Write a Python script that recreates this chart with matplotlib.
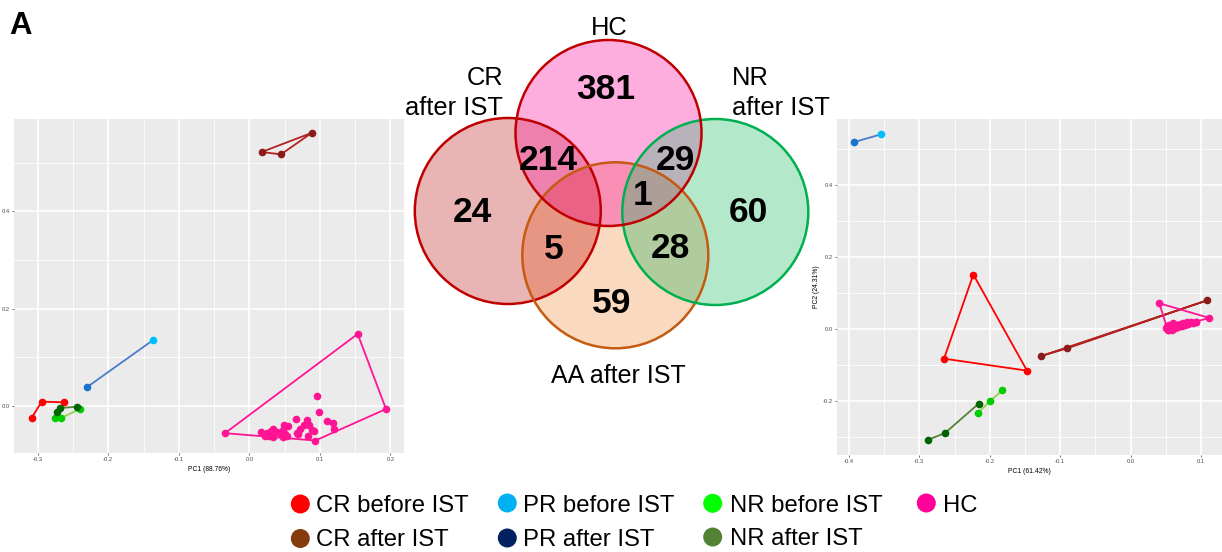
"""Venn diagram of HC / CR / NR / AA groups flanked by two PCA panels."""

import matplotlib

matplotlib.use("Agg")
import matplotlib.pyplot as plt
import numpy as np
from matplotlib.patches import Circle
from matplotlib.ticker import MultipleLocator

W, H = 1222, 552
FONT = ["Liberation Sans", "DejaVu Sans"]
plt.rcParams["font.family"] = FONT

# ---- PCA panel 1 (PC1 88.76%) ----
left_cr_before_x = [-0.3086, -0.2944, -0.2628]
left_cr_before_y = [-0.0248, 0.0083, 0.0069]
left_cr_after_x = [0.0884, 0.0175, 0.0449]
left_cr_after_y = [0.5614, 0.5221, 0.5172]
left_pr_before_x = [-0.1370]
left_pr_before_y = [0.1345]
left_pr_after_x = [-0.2297]
left_pr_after_y = [0.0386]
left_nr_before_x = [-0.2760, -0.2665, -0.2401]
left_nr_before_y = [-0.0248, -0.0248, -0.0069]
left_nr_after_x = [-0.2732, -0.2689, -0.2439]
left_nr_after_y = [-0.0131, -0.0048, -0.0021]
left_hc_hull_x = [-0.0345, 0.1536, 0.1938, 0.0936]
left_hc_hull_y = [-0.0566, 0.1476, -0.0069, -0.0717]
left_hc_x = [0.0964, 0.0983, 0.0666, 0.0813, 0.1096, 0.1181, 0.1196, 0.0841,
             0.0884, 0.0917, 0.0770, 0.0718, 0.0671, 0.0836, 0.0553, 0.0491,
             0.0473, 0.0506, 0.0482, 0.0444, 0.0340, 0.0302, 0.0284, 0.0246,
             0.0222, 0.0161, 0.0331, 0.0388, 0.0529, 0.0685]
left_hc_y = [0.0200, -0.0131, -0.0269, -0.0303, -0.0317, -0.0359, -0.0490,
             -0.0407, -0.0510, -0.0524, -0.0407, -0.0476, -0.0566, -0.0614,
             -0.0428, -0.0400, -0.0510, -0.0579, -0.0648, -0.0593, -0.0476,
             -0.0531, -0.0614, -0.0566, -0.0614, -0.0545, -0.0648, -0.0545,
             -0.0614, -0.0579]

# ---- PCA panel 2 (PC1 61.42%, PC2 24.31%) ----
right_cr_before_x = [-0.2233, -0.2649, -0.1471]
right_cr_before_y = [0.1520, -0.0815, -0.1148]
right_cr_after_x = [-0.1268, -0.0899, 0.1088]
right_cr_after_y = [-0.0741, -0.0528, 0.0806]
right_pr_before_x = [-0.3548]
right_pr_before_y = [0.5410]
right_pr_after_x = [-0.3920]
right_pr_after_y = [0.5200]
right_nr_before_x = [-0.2171, -0.2001, -0.1821]
right_nr_before_y = [-0.2333, -0.2000, -0.1694]
right_nr_after_x = [-0.2871, -0.2635, -0.2157]
right_nr_after_y = [-0.3065, -0.2880, -0.2065]
right_hc_hull_x = [0.0407, 0.1116, 0.0922, 0.0525]
right_hc_hull_y = [0.0722, 0.0315, 0.0213, -0.0019]
right_hc_x = [0.0497, 0.0525, 0.0558, 0.0582, 0.0605, 0.0629, 0.0653, 0.0676,
              0.0700, 0.0724, 0.0747, 0.0771, 0.0795, 0.0818, 0.0851, 0.0889,
              0.0922, 0.0544, 0.0596, 0.0511]
right_hc_y = [0.0028, -0.0019, 0.0056, -0.0019, 0.0074, 0.0028, 0.0120, 0.0056,
              0.0148, 0.0093, 0.0185, 0.0120, 0.0204, 0.0148, 0.0213, 0.0185,
              0.0213, 0.0120, 0.0167, 0.0093]

# ---- Venn counts ----
venn_sets = ["HC", "CR\nafter IST", "NR\nafter IST", "AA after IST"]
venn_counts = {"381": "HC", "214": "HC&CR", "29": "HC&NR", "24": "CR",
               "1": "HC&NR&AA", "60": "NR", "5": "CR&AA", "28": "NR&AA",
               "59": "AA"}

legend_labels = ["CR before IST", "PR before IST", "NR before IST", "HC",
                 "CR after IST", "PR after IST", "NR after IST"]
legend_colors = ["#FF0000", "#00B0F0", "#00FF00", "#FF0099",
                 "#843C0C", "#002060", "#548235"]

C_CR_B, C_CR_A = "#FF0000", ("#8B1A1A", "#B22222")
C_NR_B, C_NR_A = ("#00CD00", "#92D050"), ("#006400", "#548235")
C_PR_B, C_PR_A, C_PR_LINE = "#00BFFF", "#1874CD", "#4A7DC9"
C_HC = "#FF1493"
MS = 5.5


def px_axes(fig, left, top, right, bottom):
    return fig.add_axes([left / W, 1 - bottom / H, (right - left) / W,
                         (bottom - top) / H])


def style_panel(ax, xlim, ylim):
    ax.set_facecolor("#EBEBEB")
    for s in ax.spines.values():
        s.set_visible(False)
    ax.set_xlim(*xlim)
    ax.set_ylim(*ylim)
    ax.xaxis.set_major_locator(MultipleLocator(0.1))
    ax.xaxis.set_minor_locator(MultipleLocator(0.05))
    ax.yaxis.set_major_locator(MultipleLocator(0.2))
    ax.yaxis.set_minor_locator(MultipleLocator(0.1))
    ax.grid(which="major", color="white", lw=1.2)
    ax.grid(which="minor", color="white", lw=0.6)
    ax.set_axisbelow(True)
    ax.tick_params(which="major", length=1.5, width=0.5, color="#333333",
                   labelsize=4.2, labelcolor="#4D4D4D", pad=1.5)
    ax.tick_params(which="minor", length=0)
    ax.xaxis.set_major_formatter(lambda v, p: f"{v:.1f}".replace("-0.0", "0.0"))
    ax.yaxis.set_major_formatter(lambda v, p: f"{v:.1f}".replace("-0.0", "0.0"))


def hull(ax, x, y, point_color, line_color, closed):
    x, y = list(x), list(y)
    lx = x + x[:1] if closed else x
    ly = y + y[:1] if closed else y
    ax.plot(lx, ly, color=line_color, lw=1.3, zorder=2)
    ax.plot(x, y, "o", color=point_color, ms=MS, mec="none", zorder=3)


def points(ax, x, y, color):
    ax.plot(x, y, "o", color=color, ms=MS, mec="none", zorder=3, ls="none")


fig = plt.figure(figsize=(W / 100, H / 100), dpi=100)

# left PCA
ax1 = px_axes(fig, 14, 119, 404, 453.3)
style_panel(ax1, (-0.3337, 0.2193), (-0.098, 0.590))
hull(ax1, left_cr_before_x, left_cr_before_y, C_CR_B, C_CR_B, False)
hull(ax1, left_cr_after_x, left_cr_after_y, C_CR_A[0], C_CR_A[1], True)
ax1.plot(left_pr_after_x + left_pr_before_x, left_pr_after_y + left_pr_before_y,
         color=C_PR_LINE, lw=1.3, zorder=2)
points(ax1, left_pr_before_x, left_pr_before_y, C_PR_B)
points(ax1, left_pr_after_x, left_pr_after_y, C_PR_A)
hull(ax1, left_nr_before_x, left_nr_before_y, C_NR_B[0], C_NR_B[1], False)
hull(ax1, left_nr_after_x, left_nr_after_y, C_NR_A[0], C_NR_A[1], False)
hull(ax1, left_hc_hull_x, left_hc_hull_y, C_HC, C_HC, True)
points(ax1, left_hc_x, left_hc_y, C_HC)
ax1.set_xlabel("PC1 (88.76%)", fontsize=4.9, labelpad=2.5)

# right PCA
ax2 = px_axes(fig, 836.7, 119.3, 1222, 455)
style_panel(ax2, (-0.4172, 0.1296), (-0.349, 0.583))
hull(ax2, right_cr_before_x, right_cr_before_y, C_CR_B, C_CR_B, True)
hull(ax2, right_cr_after_x, right_cr_after_y, C_CR_A[0], C_CR_A[1], True)
ax2.plot(right_pr_after_x + right_pr_before_x,
         right_pr_after_y + right_pr_before_y, color=C_PR_LINE, lw=1.3, zorder=2)
points(ax2, right_pr_before_x, right_pr_before_y, C_PR_B)
points(ax2, right_pr_after_x, right_pr_after_y, C_PR_A)
hull(ax2, right_nr_before_x, right_nr_before_y, C_NR_B[0], C_NR_B[1], False)
hull(ax2, right_nr_after_x, right_nr_after_y, C_NR_A[0], C_NR_A[1], False)
hull(ax2, right_hc_hull_x, right_hc_hull_y, C_HC, C_HC, True)
points(ax2, right_hc_x, right_hc_y, C_HC)
ax2.set_xlabel("PC1 (61.42%)", fontsize=4.9, labelpad=2.5)
ax2.set_ylabel("PC2 (24.31%)", fontsize=4.9, labelpad=2)

# overlay in pixel units for the Venn, legend and panel letter
ov = fig.add_axes([0, 0, 1, 1], zorder=5)
ov.axis("off")
ov.patch.set_alpha(0)

circles = {  # centre x, centre y, radius, edge colour
    "HC": (608.5, 133.0, 93.0, "#C00000"),
    "CR": (507.8, 211.0, 93.0, "#C00000"),
    "NR": (715.3, 212.0, 93.0, "#00B050"),
    "AA": (615.3, 255.3, 93.0, "#C55A11"),
}
region_colors = {
    ("HC",): "#FDAEDF", ("CR",): "#E9B4B4", ("NR",): "#B3E8CA",
    ("AA",): "#F9D9C0", ("HC", "CR"): "#EE80AE", ("HC", "NR"): "#B8B2BA",
    ("HC", "AA"): "#F98FB4", ("HC", "CR", "AA"): "#EA6387",
    ("HC", "NR", "AA"): "#AE9E98", ("CR", "AA"): "#E89684",
    ("NR", "AA"): "#B0CC9E",
}
x0, x1, y0, y1 = 405, 820, 30, 360
gx, gy = np.meshgrid(np.arange(x0, x1, 0.25) + 0.125,
                     np.arange(y0, y1, 0.25) + 0.125)
inside = {k: (gx - c[0]) ** 2 + (gy - c[1]) ** 2 <= c[2] ** 2
          for k, c in circles.items()}
img = np.zeros(gx.shape + (4,))
for key, col in region_colors.items():
    mask = np.ones(gx.shape, bool)
    for k in circles:
        mask &= inside[k] if k in key else ~inside[k]
    img[mask] = matplotlib.colors.to_rgba(col)
ov.imshow(img, extent=(x0, x1, y1, y0), origin="upper", aspect="auto",
          interpolation="nearest", zorder=1)
for k in ["CR", "AA", "NR", "HC"]:
    cx, cy, r, ec = circles[k]
    ov.add_patch(Circle((cx, cy), r, fill=False, ec=ec, lw=1.8, zorder=2))
ov.set_xlim(0, W)
ov.set_ylim(H, 0)

ov.text(608.7, 35, venn_sets[0], fontsize=18.4, ha="center", va="baseline")
ov.text(503, 115, venn_sets[1], fontsize=18.4, ha="right", va="baseline",
        multialignment="right", linespacing=1.32)
ov.text(731.7, 115, venn_sets[2], fontsize=18.4, ha="left", va="baseline",
        multialignment="left", linespacing=1.32)
ov.text(618.3, 382.7, venn_sets[3], fontsize=18, ha="center", va="baseline")

count_pos = {"381": (606, 99.3), "214": (548.3, 170), "29": (675, 170),
             "24": (472.7, 221.7), "1": (642.5, 205), "60": (748.3, 221.7),
             "5": (554, 259.3), "28": (670, 258.3), "59": (611.7, 313.3)}
for txt in venn_counts:
    ov.text(*count_pos[txt], txt, fontsize=25.5, fontweight="bold",
            ha="center", va="baseline", zorder=4)

ov.text(9.5, 34, "A", fontsize=22.4, fontweight="bold", ha="left",
        va="baseline")

# legend
leg_marker = [(300.3, 504), (507.3, 503), (712.7, 503.3), (926.3, 503),
              (300.3, 538.5), (507.3, 538), (712.7, 537)]
leg_text = [(316, 512.3), (523.3, 512.3), (730, 512.3), (943.3, 512),
            (316, 546.5), (523.3, 546.5), (730, 545)]
for lab, col, (mx, my), (tx, ty) in zip(legend_labels, legend_colors,
                                        leg_marker, leg_text):
    ov.add_patch(Circle((mx, my), 9.5, fc=col, ec="none", zorder=3))
    ov.text(tx, ty, lab, fontsize=17.2, ha="left", va="baseline")

fig.savefig("out.png", dpi=100)
